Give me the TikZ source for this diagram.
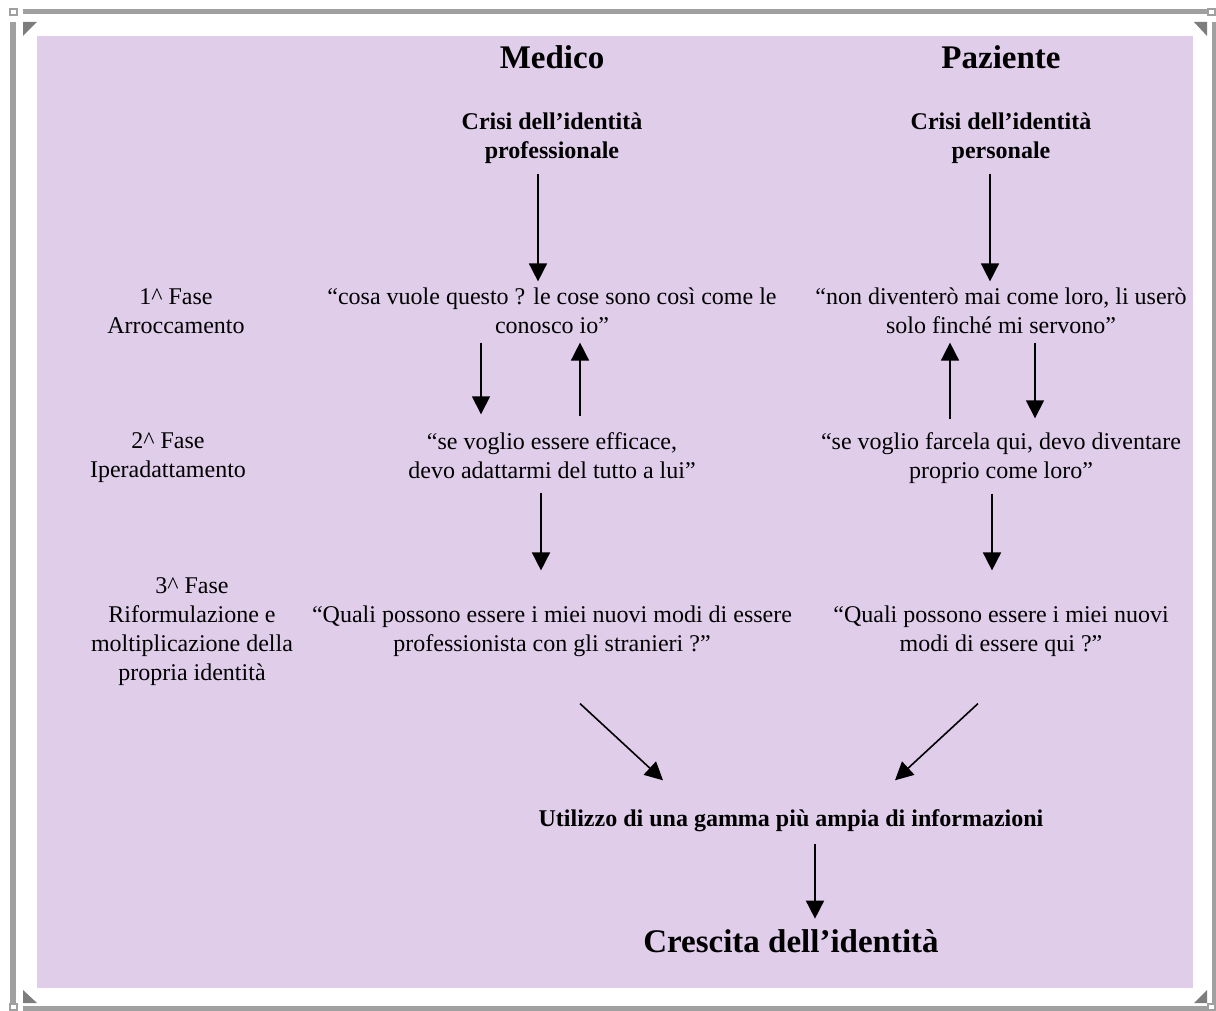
\documentclass[tikz,border=0pt]{standalone}
\usepackage{fontspec}
\setmainfont{Liberation Serif}
\definecolor{FrameGray}{RGB}{160,160,160}
\definecolor{CornerGray}{RGB}{125,125,125}
\definecolor{PanelLilac}{RGB}{224,205,234}
\usetikzlibrary{arrows.meta}
\newcommand{\bodyfont}{\fontsize{12}{14.5}\selectfont}
\newcommand{\headfont}{\fontsize{16.5}{20}\selectfont\bfseries}

\begin{document}
\begin{tikzpicture}[x=0.5pt, y=-0.5pt,
    phrase/.style={font=\bodyfont, align=center, inner sep=0pt,
      execute at begin node=\strut, execute at end node=\strut},
    crisis/.style={phrase, font=\bodyfont\bfseries},
    title/.style={font=\headfont, inner sep=0pt, anchor=base},
    flow/.style={-{Triangle[length=9pt,width=9pt]}, line width=0.8pt}]
    \useasboundingbox (0,0) rectangle (1216,1011);
    \fill[white] (0,0) rectangle (1216,1011);
    \fill[PanelLilac] (37,36) rectangle (1193,988);
    \fill[FrameGray] (23,9) rectangle (1207,14);
    \fill[FrameGray] (10,22) rectangle (16,1003);
    \fill[FrameGray] (23,1006) rectangle (1207,1011);
    \fill[FrameGray] (1212,22) rectangle (1216,1003);
    \foreach \cx/\cy in {10/9, 1208/9, 10/1004, 1208/1004}
      \draw[FrameGray, line width=0.6pt] (\cx,\cy) rectangle ++(7,6);
    \fill[CornerGray] (23,22) -- (37,22) -- (23,36) -- cycle;
    \fill[CornerGray] (1194,22) -- (1207,22) -- (1207,36) -- cycle;
    \fill[CornerGray] (23,990) -- (23,1003) -- (37,1003) -- cycle;
    \fill[CornerGray] (1207,990) -- (1207,1003) -- (1194,1003) -- cycle;

    \node[title] (medico) at (552,69) {Medico};
    \node[title] (paziente) at (1001,69) {Paziente};
    \node[crisis] (crisiM) at (552,140) {Crisi dell’identità\\professionale};
    \node[crisis] (crisiP) at (1001,140) {Crisi dell’identità\\personale};

    \node[phrase] (fase1) at (176,315) {1\textasciicircum{} Fase\\Arroccamento};
    \node[phrase] (fase2) at (168,459) {2\textasciicircum{} Fase\\Iperadattamento};
    \node[phrase] (fase3) at (192,633) {3\textasciicircum{} Fase\\Riformulazione e\\moltiplicazione della\\propria identità};

    \node[phrase] (medico1) at (552,315) {“cosa vuole questo ? le cose sono così come le\\conosco io”};
    \node[phrase] (paziente1) at (1001,315) {“non diventerò mai come loro, li userò\\solo finché mi servono”};
    \node[phrase] (medico2) at (552,460) {“se voglio essere efficace,\\devo adattarmi del tutto a lui”};
    \node[phrase] (paziente2) at (1001,460) {“se voglio farcela qui, devo diventare\\proprio come loro”};
    \node[phrase] (medico3) at (552,633) {“Quali possono essere i miei nuovi modi di essere\\professionista con gli stranieri ?”};
    \node[phrase] (paziente3) at (1001,633) {“Quali possono essere i miei nuovi\\modi di essere qui ?”};

    \node[crisis, anchor=base] (gamma) at (791,826) {Utilizzo di una gamma più ampia di informazioni};
    \node[title] (crescita) at (791,952) {Crescita dell’identità};

    \draw[flow, shorten <=3pt, shorten >=3pt] ([xshift=-7pt]crisiM.south) -- ([xshift=-7pt]medico1.north);
    \draw[flow, shorten <=3pt, shorten >=3pt] ([xshift=-5.5pt]crisiP.south) -- ([xshift=-5.5pt]paziente1.north);
    \draw[flow, shorten >=9pt] ([xshift=-35.5pt]medico1.south) -- ([xshift=-35.5pt]medico2.north);
    \draw[flow, shorten <=8pt] ([xshift=14pt]medico2.north) -- ([xshift=14pt]medico1.south);
    \draw[flow, shorten <=6.5pt] ([xshift=-25.5pt]paziente2.north) -- ([xshift=-25.5pt]paziente1.south);
    \draw[flow, shorten >=7pt] ([xshift=17pt]paziente1.south) -- ([xshift=17pt]paziente2.north);
    \draw[flow, shorten <=2.5pt, shorten >=17.5pt] ([xshift=-5.5pt]medico2.south) -- ([xshift=-5.5pt]medico3.north);
    \draw[flow, shorten <=3pt, shorten >=17.5pt] ([xshift=-4.5pt]paziente2.south) -- ([xshift=-4.5pt]paziente3.north);
    \draw[flow] ([xshift=14pt, yshift=-21.5pt]medico3.south) -- ([xshift=-64pt, yshift=12.5pt]gamma.north);
    \draw[flow] ([xshift=-11.5pt, yshift=-21.5pt]paziente3.south) -- ([xshift=52pt, yshift=12.5pt]gamma.north);
    \draw[flow, shorten <=4.5pt, shorten >=5pt] ([xshift=12pt]gamma.south) -- ([xshift=12pt]crescita.north);
\end{tikzpicture}
\end{document}
